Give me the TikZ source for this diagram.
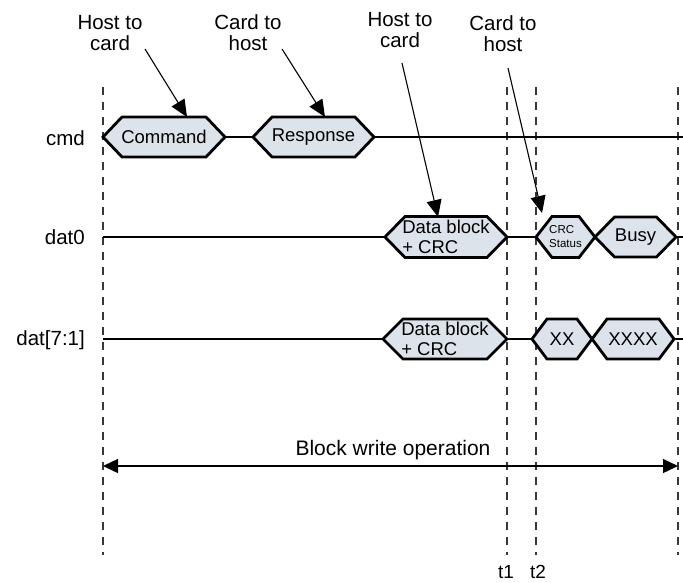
\documentclass[tikz,border=0pt]{standalone}
\usepackage{fontspec}
\setmainfont{Liberation Sans}
\usetikzlibrary{arrows.meta}
\definecolor{hexfill}{RGB}{221,227,234}
\definecolor{dashgray}{RGB}{55,55,55}
% name, xl, xr, y, slant, halfheight, node options, text
\newcommand{\hexnode}[8]{%
  \coordinate (#1-w) at (#2,#4);
  \coordinate (#1-e) at (#3,#4);
  \draw[hexbox] (#2,#4) -- (#2+#5,#4-#6) -- (#3-#5,#4-#6) -- (#3,#4)
     -- (#3-#5,#4+#6) -- (#2+#5,#4+#6) -- cycle;
  \node[boxtext,#7] (#1) at ({(#2+#3)/2},#4) {#8};
}
\begin{document}
\begin{tikzpicture}[x=1pt,y=-1pt,
  sig/.style={line width=2pt, black},
  hexbox/.style={draw=black, fill=hexfill, line width=2.8pt, line join=miter},
  boxtext/.style={font=\fontsize{18.5}{19.5}\selectfont, inner sep=0pt, align=left},
  lbl/.style={font=\fontsize{20.5}{21}\selectfont, inner sep=0pt, align=center},
  vdash/.style={dashgray, line width=1.3pt, dash pattern=on 7.5pt off 7.5pt},
  ptr/.style={line width=1.1pt, -{Triangle[length=17pt,width=15pt]}},
  ]
\useasboundingbox (0,0) rectangle (683,582);

% vertical dashed time markers
\coordinate (v0t) at (103,87);  \coordinate (v0b) at (103,555);
\coordinate (v1t) at (507,87);  \coordinate (v1b) at (507,555);
\coordinate (v2t) at (536,87);  \coordinate (v2b) at (536,555);
\coordinate (v3t) at (678,87);  \coordinate (v3b) at (678,555);
\draw[vdash] (v0t) -- (v0b);
\draw[vdash] (v1t) -- (v1b);
\draw[vdash] (v2t) -- (v2b);
\draw[vdash] (v3t) -- (v3b);

% signal line ends
\coordinate (cmdR) at (683,137);
\coordinate (d0L) at (103,237);
\coordinate (d0R) at (683,237);
\coordinate (d7L) at (103,339);
\coordinate (d7R) at (683,339);

% hexagons
\hexnode{cmdbox}{103}{225}{137}{19}{20}{}{Command}
\hexnode{resp}{253}{374}{137}{19}{20}{}{Response}
\hexnode{db0}{385}{507}{237}{20}{20.5}{}{Data block\\ + CRC}
\hexnode{crc}{536}{595}{237}{16}{20.5}{font=\fontsize{11.5}{14}\selectfont}{CRC\\Status}
\hexnode{busy}{595}{676}{237}{19.5}{20}{}{Busy}
\hexnode{db7}{383}{507}{339}{20}{20}{}{Data block\\ + CRC}
\hexnode{xx}{532}{592}{339}{15}{20}{}{XX}
\hexnode{xxxx}{592}{674}{339}{15}{20}{}{XXXX}

% signal lines
\draw[sig] (cmdbox-e) -- (resp-w);
\draw[sig] (resp-e) -- (cmdR);
\draw[sig] (d0L) -- (db0-w);
\draw[sig] (db0-e) -- (crc-w);
\draw[sig] (busy-e) -- (d0R);
\draw[sig] (d7L) -- (db7-w);
\draw[sig] (db7-e) -- (xx-w);
\draw[sig] (xxxx-e) -- (d7R);

% signal names
\node[lbl, anchor=base east] (ncmd) at (85,145) {cmd};
\node[lbl, anchor=base east] (ndat0) at (85,244) {dat0};
\node[lbl, anchor=base east] (ndat7) at (85,345) {dat[7:1]};

% direction labels
\node[lbl] (h1) at (110,33) {Host to\\card};
\node[lbl] (h2) at (248,33) {Card to\\host};
\node[lbl] (h3) at (400,30.5) {Host to\\card};
\node[lbl] (h4) at (503,34) {Card to\\host};

% pointers
\coordinate (p1s) at (145,49);  \coordinate (p1e) at (187,117);
\coordinate (p2s) at (282,49);  \coordinate (p2e) at (325,117);
\coordinate (p3s) at (402,63);  \coordinate (p3e) at (438,217);
\coordinate (p4s) at (508,68);  \coordinate (p4e) at (542,213);
\draw[ptr] (p1s) -- (p1e);
\draw[ptr] (p2s) -- (p2e);
\draw[ptr] (p3s) -- (p3e);
\draw[ptr] (p4s) -- (p4e);

% block write operation
\coordinate (bwL) at (103,466);
\coordinate (bwR) at (678,466);
\draw[line width=1.4pt, {Triangle[length=15pt,width=14pt]}-{Triangle[length=15pt,width=14pt]}] (bwL) -- (bwR);
\node[lbl, font=\fontsize{21}{22}\selectfont, anchor=base] (bw) at (393,455) {Block write operation};

% time labels
\node[lbl, font=\fontsize{19}{20}\selectfont, anchor=base] (t1) at (506,578) {t1};
\node[lbl, font=\fontsize{19}{20}\selectfont, anchor=base] (t2) at (538,578) {t2};
\end{tikzpicture}
\end{document}
